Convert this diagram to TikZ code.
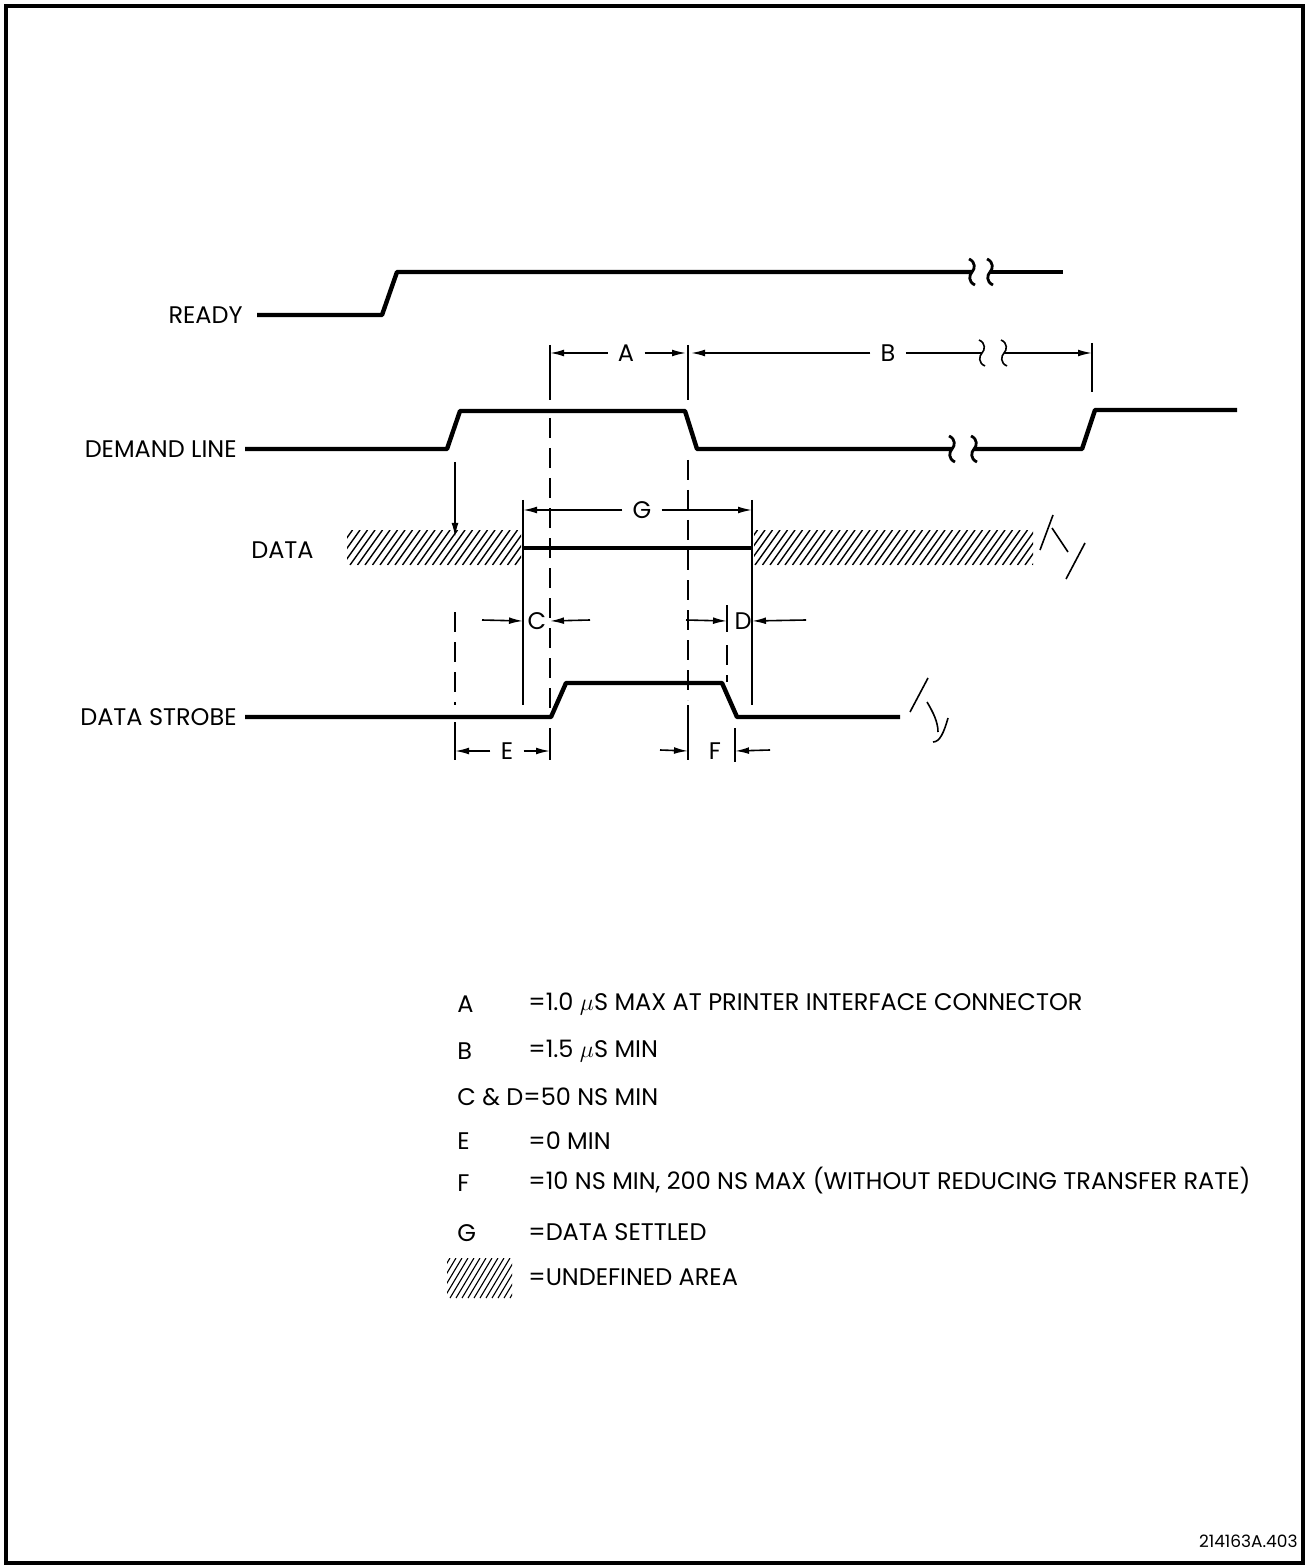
\documentclass[tikz,border=0pt]{standalone}
\usepackage{fontspec}
\setmainfont{Poppins}
\usetikzlibrary{arrows.meta,positioning,calc}
\tikzset{
  sig/.style={line width=2.2pt,line join=round},
  ext/.style={line width=0.8pt},
  extd/.style={line width=0.8pt,dash pattern=on 10pt off 5pt},
  dim/.style={line width=0.8pt,-{Latex[length=7pt,width=3.4pt]}},
  lbl/.style={font=\fontsize{12}{14}\selectfont,inner sep=1pt},
  dimlbl/.style={lbl,inner sep=5pt},
  hatch/.style={line width=0.7pt},
  brk/.pic={\draw (-3,-13) .. controls (4,-10) and (3,-3) .. (0,0) .. controls (-3,3) and (-4,10) .. (3,13);},
}
\begin{document}
\begin{tikzpicture}[x=0.5pt,y=-0.5pt]
  \useasboundingbox (0,0) rectangle (1308,1566);
  \draw[line width=1.6pt] (6,6) rectangle (1303,1563);

  % signal names
  \node[lbl,anchor=east] (ready) at (245,315) {READY};
  \node[lbl,anchor=east] (demand) at (239,449) {DEMAND LINE};
  \node[lbl,anchor=east] (data) at (316,550) {DATA};
  \node[lbl,anchor=east] (strobe) at (239,717) {DATA STROBE};

  % waveforms
  \draw[sig] ([xshift=6pt]ready.east) -- (382,315) -- (397,272) -- (972,272);
  \pic[line width=1.4pt] at (972,272) {brk};
  \pic[line width=1.4pt] at (990,272) {brk};
  \draw[sig] (990,272) -- (1063,272);

  \draw[sig] ([xshift=3pt]demand.east) -- (447,449) -- (460,411) -- (685,411) -- (697,449) -- (952,449);
  \pic[line width=1.4pt] at (952,449) {brk};
  \pic[line width=1.4pt] at (974,449) {brk};
  \draw[sig] (974,449) -- (1082,449) -- (1095,410) -- (1237,410);

  \draw[sig] (523,548) -- (752,548);
  \begin{scope}
    \clip (347,530) rectangle (521,565) (754,530) rectangle (1033,565);
    \foreach \h in {320,327.5,...,1040}
      \draw[hatch] (\h,565) -- ++(25,-35);
  \end{scope}
  \draw[ext] (1040,550) -- (1053,515) (1052,528) -- (1068,552) (1066,579) -- (1085,543);

  \draw[sig] ([xshift=3pt]strobe.east) -- (551,717) -- (566,683) -- (722,683) -- (737,717) -- (900,717);
  \draw[ext] (910,712) -- (928,678) (927,702) .. controls (933,712) and (938,722) .. (938,732)
    (948,718) .. controls (944,732) and (940,742) .. (933,742);

  % extension lines
  \coordinate (xa) at (550,0);
  \coordinate (xb) at (688,0);
  \coordinate (xc) at (1092,0);
  \coordinate (xe) at (455,0);
  \coordinate (xg) at (523,0);
  \coordinate (xh) at (752,0);
  \coordinate (xd) at (727,0);
  \coordinate (xf) at (735,0);
  \draw[ext] (550,345) -- (550,400) (550,728) -- (550,760);
  \draw[extd] (550,418) -- (550,712);
  \draw[ext] (688,345) -- (688,400) (688,705) -- (688,760);
  \draw[extd] (688,460) -- (688,700);
  \draw[ext] (1092,343) -- (1092,392);
  \draw[dim] (455,462) -- (455,537);
  \draw[extd] (455,612) -- (455,705);
  \draw[ext] (455,722) -- (455,760);
  \draw[ext] (523,500) -- (523,705);
  \draw[ext] (752,500) -- (752,705);
  \draw[ext] (727,605) -- (727,632);
  \draw[extd] (727,645) -- (727,682);
  \draw[ext] (735,728) -- (735,762);

  % dimensions
  \node[dimlbl] (dA) at (626,353) {A};
  \draw[dim] (dA) -- (dA -| xa);
  \draw[dim] (dA) -- ([xshift=-1pt]dA -| xb);
  \node[dimlbl] (dB) at (888,353) {B};
  \draw[dim] (dB) -- ([xshift=1.5pt]dB -| xb);
  \draw[ext] (dB.east) -- (982,353);
  \pic[line width=0.8pt] at (982,353) {brk};
  \pic[line width=0.8pt] at (1004,353) {brk};
  \draw[dim] (1004,353) -- (dB -| xc);
  \node[dimlbl] (dG) at (642,510) {G};
  \draw[dim] (dG) -- (dG -| xg);
  \draw[dim] (dG) -- (dG -| xh);
  \node[dimlbl,inner sep=2pt] (dC) at (537,621) {C};
  \draw[dim] (482,620) -- (dC -| xg);
  \draw[dim] (590,620) -- (dC -| xa);
  \node[dimlbl,inner sep=2pt] (dD) at (743,621) {D};
  \draw[dim] (686,620) -- (dD -| xd);
  \draw[dim] (806,620) -- (dD -| xh);
  \node[dimlbl] (dE) at (507,751) {E};
  \draw[dim] (dE) -- (dE -| xe);
  \draw[dim] (dE) -- (dE -| xa);
  \node[lbl] (dF) at (715,751) {F};
  \draw[dim] (660,750) -- (dF -| xb);
  \draw[dim] (770,750) -- (dF -| xf);

  % legend
  \node[lbl,anchor=west] (kA) at (455,1004) {A};
  \node[lbl,anchor=west] (vA) at (526,1004) {=1.0 $\mu$S MAX AT PRINTER INTERFACE CONNECTOR};
  \node[lbl,anchor=west] (kB) at (455,1051) {B};
  \node[lbl,anchor=west] (vB) at (526,1051) {=1.5 $\mu$S MIN};
  \node[lbl,anchor=west] (kC) at (455,1097) {C \& D=50 NS MIN};
  \node[lbl,anchor=west] (kE) at (455,1141) {E};
  \node[lbl,anchor=west] (vE) at (526,1141) {=0 MIN};
  \node[lbl,anchor=west] (kF) at (455,1183) {F};
  \node[lbl,anchor=west] (vF) at (526,1181) {=10 NS MIN, 200 NS MAX (WITHOUT REDUCING TRANSFER RATE)};
  \node[lbl,anchor=west] (kG) at (455,1233) {G};
  \node[lbl,anchor=west] (vG) at (526,1232) {=DATA SETTLED};
  \begin{scope}
    \clip (447,1258) rectangle (512,1298);
    \foreach \h in {420,426,...,520}
      \draw[hatch,line width=0.55pt] (\h,1298) -- ++(24,-40);
  \end{scope}
  \node[lbl,anchor=west] (vU) at (526,1277) {=UNDEFINED AREA};

  \node[lbl,font=\fontsize{8.5}{10}\selectfont,anchor=east] (code) at (1300,1541) {214163A.403};
\end{tikzpicture}
\end{document}
